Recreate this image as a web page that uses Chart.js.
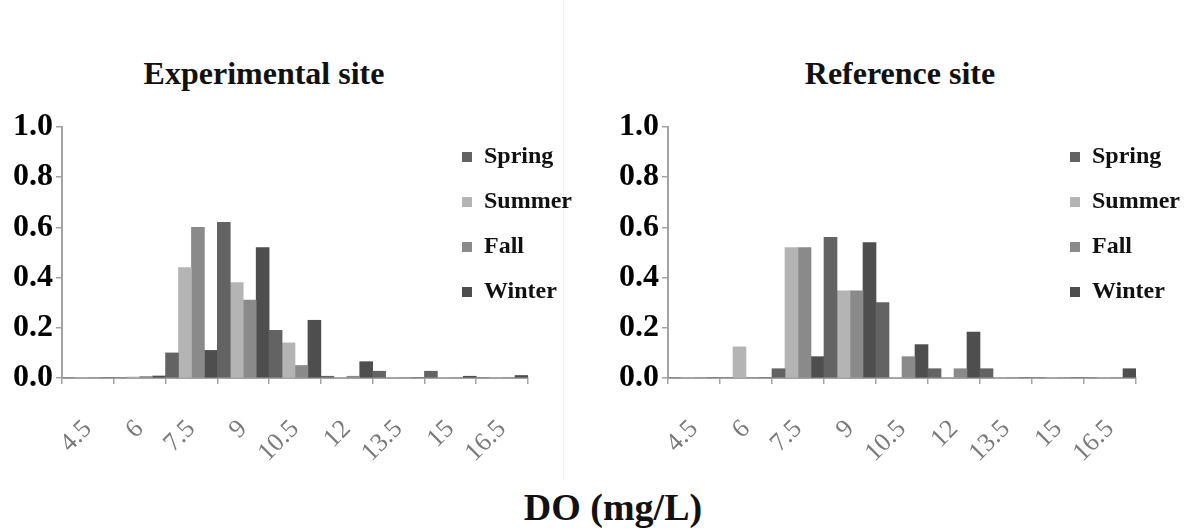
<!DOCTYPE html>
<html>
<head>
<meta charset="utf-8">
<script src="https://cdn.jsdelivr.net/npm/chart.js@4.4.1/dist/chart.umd.min.js"></script>
<style>
  body { margin: 0; background: #fff; }
  #wrap { position: relative; width: 1196px; height: 530px; overflow: hidden; font-family: 'Liberation Serif', 'Times New Roman', serif; }
  canvas { position: absolute; top: 0; }
  .panel-title { position: absolute; width: 400px; text-align: center; font-weight: bold; font-size: 32px; line-height: 32px; color: #111; }
  #divider { position: absolute; left: 563px; top: 0; width: 1px; height: 480px; background: #f1f1f1; }
  #xTitle { position: absolute; left: 413px; top: 488px; width: 400px; text-align: center; font-weight: bold; font-size: 38px; line-height: 38px; color: #111; }
</style>
</head>
<body>
<div id="wrap">
  <div id="divider"></div>
  <div class="panel-title" style="left:64px; top:57px;">Experimental site</div>
  <div class="panel-title" style="left:700px; top:57px;">Reference site</div>
  <canvas id="expChart" width="600" height="480" style="left:0px;"></canvas>
  <canvas id="refChart" width="633" height="480" style="left:563px;"></canvas>
  <div id="xTitle">DO (mg/L)</div>
</div>
<script>
// DO bins (mg/L)
const doBins = ['4.5', '6', '7.5', '9', '10.5', '12', '13.5', '15', '16.5'];
const seasons = ['Spring', 'Summer', 'Fall', 'Winter'];

// Experimental site, relative frequency per bin
const expSpring = [0, 0, 0.10, 0.62, 0.19, 0.007, 0.027, 0.027, 0];
const expSummer = [0, 0.004, 0.44, 0.38, 0.14, 0, 0, 0, 0];
const expFall   = [0, 0.006, 0.60, 0.31, 0.05, 0.007, 0, 0, 0];
const expWinter = [0, 0.008, 0.11, 0.52, 0.23, 0.065, 0, 0.007, 0.01];

// Reference site, relative frequency per bin
const refSpring = [0, 0, 0.037, 0.56, 0.30, 0.037, 0.037, 0, 0];
const refSummer = [0, 0.124, 0.52, 0.347, 0, 0, 0, 0, 0];
const refFall   = [0, 0, 0.52, 0.347, 0.085, 0.037, 0, 0, 0];
const refWinter = [0, 0, 0.085, 0.54, 0.133, 0.183, 0, 0, 0.037];

const yTicks = [0, 0.2, 0.4, 0.6, 0.8, 1.0];

const SERIF = "'Liberation Serif', 'Times New Roman', serif";
const COLORS = {
    SPRING: '#636363',
    SUMMER: '#b4b4b4',
    FALL: '#8a8a8a',
    WINTER: '#4e4e4e',
    AXIS: '#a3a3a3',
    TICK_TEXT: '#7a7a7a'
};
const SEASON_COLORS = [COLORS.SPRING, COLORS.SUMMER, COLORS.FALL, COLORS.WINTER];

// the legend sits inside the plot area, so move it there after layout
const legendSpot = {
    id: 'legendSpot',
    afterLayout(chart, args, opts) {
        const lg = chart.legend;
        lg.left = opts.x;
        lg.right = opts.x + 200;
        lg.width = 200;
        lg.top = opts.y;
        lg.bottom = opts.y + 260;
        lg.height = 260;
    }
};

function makeChart(canvasId, series, pad, legendX) {
    const datasets = series.map((values, i) => ({
        label: seasons[i],
        data: values,
        backgroundColor: SEASON_COLORS[i],
        borderWidth: 0,
        categoryPercentage: 1.0,
        barPercentage: 1.0
    }));

    return new Chart(document.getElementById(canvasId), {
        type: 'bar',
        data: { labels: doBins, datasets: datasets },
        plugins: [legendSpot],
        options: {
            responsive: false,
            animation: false,
            devicePixelRatio: 1,
            layout: { padding: { left: pad.left, right: pad.right, top: 127, bottom: 0 } },
            scales: {
                x: {
                    grid: { drawOnChartArea: false, tickLength: 6, color: COLORS.AXIS, lineWidth: 1.5 },
                    border: { color: COLORS.AXIS, width: 2 },
                    ticks: {
                        autoSkip: false,
                        minRotation: 45,
                        maxRotation: 45,
                        padding: 30,
                        labelOffset: 0,
                        color: COLORS.TICK_TEXT,
                        font: { family: SERIF, size: 26 }
                    },
                    afterFit: (scale) => { scale.height = 102; }
                },
                y: {
                    min: 0,
                    max: 1,
                    afterBuildTicks: (scale) => { scale.ticks = yTicks.map(v => ({ value: v })); },
                    grid: { drawOnChartArea: false, tickLength: 6, color: COLORS.AXIS, lineWidth: 1.5 },
                    border: { color: COLORS.AXIS, width: 2 },
                    ticks: {
                        padding: 3,
                        color: '#000',
                        font: { family: SERIF, size: 32, weight: 'bold' },
                        callback: (v) => Number(v).toFixed(1)
                    },
                    afterFit: (scale) => { scale.width = 48; }
                }
            },
            plugins: {
                legend: {
                    position: 'right',
                    align: 'start',
                    maxWidth: 1,
                    labels: {
                        boxWidth: 10,
                        boxHeight: 10,
                        padding: 21,
                        color: '#111',
                        font: { family: SERIF, size: 24, weight: 'bold' }
                    }
                },
                legendSpot: { x: legendX, y: 124 },
                tooltip: { enabled: false }
            }
        }
    });
}

makeChart('expChart', [expSpring, expSummer, expFall, expWinter], { left: 14, right: 71 }, 441);
makeChart('refChart', [refSpring, refSummer, refFall, refWinter], { left: 57, right: 59 }, 486);
</script>
</body>
</html>
